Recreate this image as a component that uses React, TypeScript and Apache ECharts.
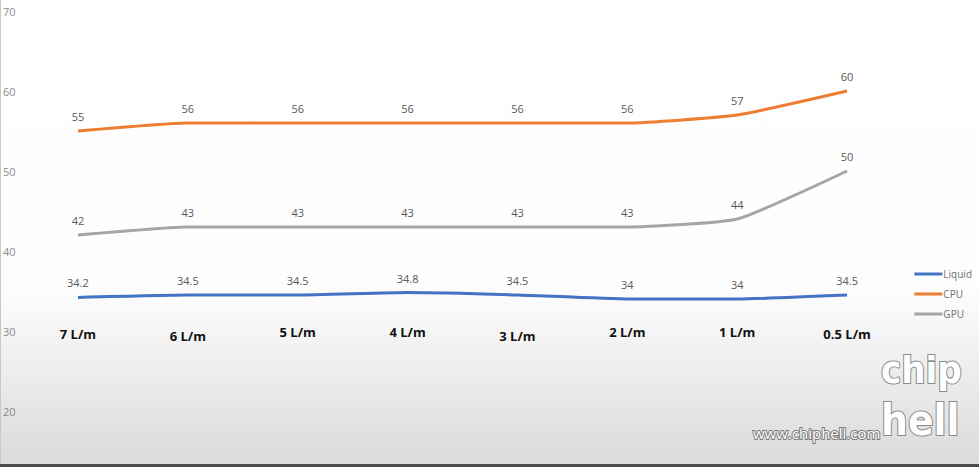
import React, { useEffect, useRef } from "react";
import * as echarts from "echarts";

const categories = ["7 L/m", "6 L/m", "5 L/m", "4 L/m", "3 L/m", "2 L/m", "1 L/m", "0.5 L/m"];
const labelOffsets = [1, 2, -4, -1, 2, -1, -4, 1];
const liquid = [34.2, 34.5, 34.5, 34.8, 34.5, 34, 34, 34.5];
const cpu = [55, 56, 56, 56, 56, 56, 57, 60];
const gpu = [42, 43, 43, 43, 43, 43, 44, 50];
const yTicks = { min: 20, max: 70, interval: 10 };

export default function App() {
  const ref = useRef<HTMLDivElement>(null);
  useEffect(() => {
    const chart = echarts.init(ref.current!, null, { renderer: "svg" });
    const mkSeries = (name: string, data: number[], color: string) => ({
      name,
      type: "line",
      data,
      smooth: 0.15,
      symbol: "circle",
      symbolSize: 0,
      showSymbol: true,
      lineStyle: { color, width: 3 },
      itemStyle: { color },
      label: {
        show: true,
        position: "top",
        distance: 9,
        color: "#595959",
        fontSize: 11,
        fontFamily: "Open Sans",
      },
    });
    chart.setOption({
      animation: false,
      graphic: [
        {
          type: "rect",
          z: -10,
          silent: true,
          shape: { x: 0, y: 0, width: 979, height: 467 },
          style: {
            fill: new echarts.graphic.LinearGradient(0, 0, 0, 1, [
              { offset: 0, color: "#ffffff" },
              { offset: 0.62, color: "#fdfdfd" },
              { offset: 1, color: "#dadada" },
            ]),
          },
        },
        { type: "line", z: -5, shape: { x1: 0.5, y1: 0, x2: 0.5, y2: 467 }, style: { stroke: "#c8c8c8", lineWidth: 1 } },
        { type: "line", z: -5, shape: { x1: 0, y1: 465.5, x2: 979, y2: 465.5 }, style: { stroke: "#4a4a4a", lineWidth: 3 } },
        {
          type: "text",
          left: 752,
          top: 424,
          style: {
            text: "www.chiphell.com",
            fill: "#ffffff",
            font: "15px 'Open Sans'",
            stroke: "#7a7a7a",
            lineWidth: 2,
          },
        },
        {
          type: "text",
          left: 880,
          top: 350,
          style: {
            text: "chip",
            fill: "#ffffff",
            font: "bold 38px 'DejaVu Sans Condensed'",
            stroke: "#8a8a8a",
            lineWidth: 2,
          },
        },
        {
          type: "text",
          left: 880,
          top: 398,
          style: {
            text: "hell",
            fill: "#ffffff",
            font: "bold 42px 'DejaVu Sans Condensed'",
            stroke: "#8a8a8a",
            lineWidth: 2,
          },
        },
      ],
      legend: {
        orient: "vertical",
        right: 2,
        top: 264,
        itemWidth: 28,
        itemHeight: 3,
        itemGap: 10,
        icon: "rect",
        textStyle: { color: "#707070", fontSize: 10, fontFamily: "Open Sans", padding: [0, 0, 0, -4] },
        data: ["Liquid", "CPU", "GPU"],
      },
      grid: { left: 22, right: 77, top: 11, bottom: 56, containLabel: false },
      xAxis: {
        type: "category",
        boundaryGap: true,
        data: categories.map((c, i) => ({
          value: c,
          textStyle: { padding: [labelOffsets[i] > 0 ? labelOffsets[i] * 2 : 0, 0, labelOffsets[i] < 0 ? -labelOffsets[i] * 2 : 0, 0] },
        })),
        axisLine: { show: false },
        axisTick: { show: false },
        axisLabel: {
          margin: -86,
          color: "#111111",
          fontWeight: "bold",
          fontSize: 13,
          fontFamily: "Open Sans",
          interval: 0,
          verticalAlign: "top",
        },
        splitLine: { show: false },
      },
      yAxis: {
        type: "value",
        min: yTicks.min,
        max: yTicks.max,
        interval: yTicks.interval,
        axisLine: { show: false },
        axisTick: { show: false },
        splitLine: { show: false },
        axisLabel: {
          align: "left",
          margin: 20,
          color: "#8a8a8a",
          fontSize: 11,
          fontFamily: "Open Sans",
        },
      },
      series: [
        mkSeries("Liquid", liquid, "#4472C4"),
        mkSeries("CPU", cpu, "#ED7D31"),
        mkSeries("GPU", gpu, "#A5A5A5"),
      ],
    });
    return () => chart.dispose();
  }, []);
  return <div ref={ref} style={{ width: 979, height: 467, position: "absolute", left: 0, top: 0 }} />;
}
